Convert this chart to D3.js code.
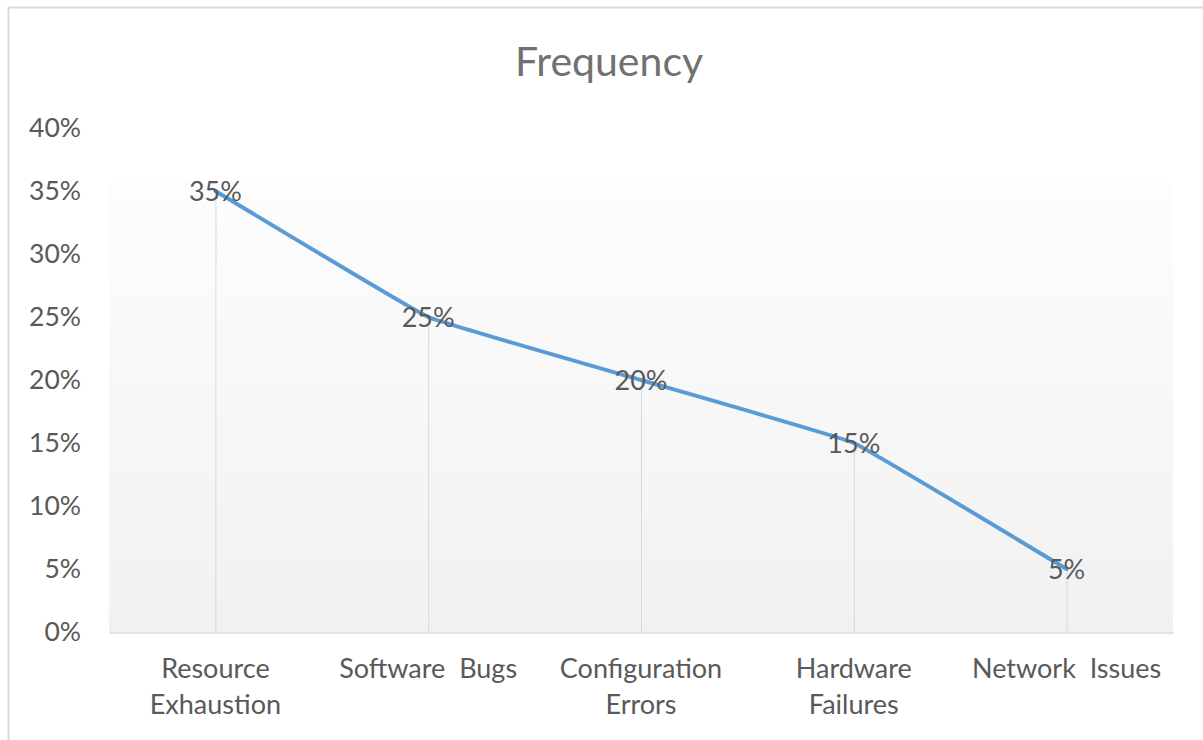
<!DOCTYPE html>
<html>
<head>
<meta charset="utf-8">
<script src="https://cdn.jsdelivr.net/npm/d3@7/dist/d3.min.js"></script>
<style>
  html, body { margin: 0; padding: 0; background: #ffffff; }
  svg { display: block; }
  text { font-family: Lato, "Open Sans", sans-serif; }
</style>
</head>
<body>
<svg id="chart" width="1203" height="740"></svg>
<script>
const title = "Frequency";
const categories = ["Resource Exhaustion", "Software Bugs", "Configuration Errors", "Hardware Failures", "Network Issues"];
const categoryLines = [["Resource", "Exhaustion"], ["Software  Bugs"], ["Configuration", "Errors"], ["Hardware", "Failures"], ["Network  Issues"]];
const values = [0.35, 0.25, 0.20, 0.15, 0.05];
const yTicks = [0, 0.05, 0.10, 0.15, 0.20, 0.25, 0.30, 0.35, 0.40];

const svg = d3.select("#chart");
const W = 1203, H = 740;
const plot = { left: 109, right: 1173, top: 128, bottom: 632 };

// chart frame
svg.append("rect")
  .attr("x", 8.5).attr("y", 7.5)
  .attr("width", W + 20).attr("height", H + 20)
  .attr("fill", "#ffffff")
  .attr("stroke", "#d9d9d9").attr("stroke-width", 2);

const x = d3.scaleBand().domain(categories).range([plot.left, plot.right]).padding(0);
const y = d3.scaleLinear().domain([0, 0.40]).range([plot.bottom, plot.top]);

// gradient background
const defs = svg.append("defs");
const grad = defs.append("linearGradient").attr("id", "bg").attr("x1", 0).attr("y1", 0).attr("x2", 0).attr("y2", 1);
grad.append("stop").attr("offset", "0%").attr("stop-color", "#fdfdfd");
grad.append("stop").attr("offset", "100%").attr("stop-color", "#f1f1f1");

const gTop = y(d3.max(values)) - 8;
svg.append("rect")
  .attr("x", plot.left).attr("y", gTop)
  .attr("width", plot.right - plot.left).attr("height", plot.bottom - gTop)
  .attr("fill", "url(#bg)");

// title
svg.append("text")
  .attr("x", 609).attr("y", 76)
  .attr("text-anchor", "middle")
  .attr("font-size", 41)
  .attr("fill", "#717171")
  .text(title);

// y axis labels
const yAxis = d3.axisLeft(y).tickValues(yTicks).tickFormat(d3.format(".0%")).tickSize(0).tickPadding(0);
const gy = svg.append("g").attr("transform", "translate(81,0)").call(yAxis);
gy.select(".domain").remove();
gy.selectAll("text").attr("font-size", 26.5).attr("fill", "#595959").attr("font-family", "Lato, 'Open Sans', sans-serif");

// drop lines
svg.append("g").selectAll("line").data(values).join("line")
  .attr("x1", (d, i) => x(categories[i]) + x.bandwidth() / 2 + 0.5)
  .attr("x2", (d, i) => x(categories[i]) + x.bandwidth() / 2 + 0.5)
  .attr("y1", d => y(d))
  .attr("y2", y(0))
  .attr("stroke", "#d9d9d9").attr("stroke-width", 1);

// x axis line
const xAxis = d3.axisBottom(x).tickSize(0).tickFormat("");
const gx = svg.append("g").attr("transform", `translate(0,${y(0) + 0.5})`).call(xAxis);
gx.select(".domain").attr("stroke", "#d9d9d9").attr("stroke-width", 1.5);

// category labels
const cl = svg.append("g").selectAll("text").data(categories).join("text")
  .attr("x", d => x(d) + x.bandwidth() / 2)
  .attr("y", 678)
  .attr("text-anchor", "middle")
  .attr("font-size", 27)
  .attr("fill", "#595959")
  .style("white-space", "pre");
cl.each(function(d, i) {
  const t = d3.select(this);
  categoryLines[i].forEach((ln, k) => {
    t.append("tspan").attr("x", x(d) + x.bandwidth() / 2).attr("dy", k === 0 ? 0 : 36).text(ln);
  });
});

// line
const line = d3.line()
  .x((d, i) => x(categories[i]) + x.bandwidth() / 2)
  .y(d => y(d))
  .curve(d3.curveCardinal.tension(0.8));
svg.append("path").datum(values)
  .attr("d", line)
  .attr("fill", "none")
  .attr("stroke", "#5b9bd5")
  .attr("stroke-width", 4)
  .attr("stroke-linecap", "round")
  .attr("stroke-linejoin", "round");

// data labels
svg.append("g").selectAll("text").data(values).join("text")
  .attr("x", (d, i) => x(categories[i]) + x.bandwidth() / 2)
  .attr("y", d => y(d) + 10)
  .attr("text-anchor", "middle")
  .attr("font-size", 27)
  .attr("fill", "#595959")
  .text(d => d3.format(".0%")(d));
</script>
</body>
</html>
